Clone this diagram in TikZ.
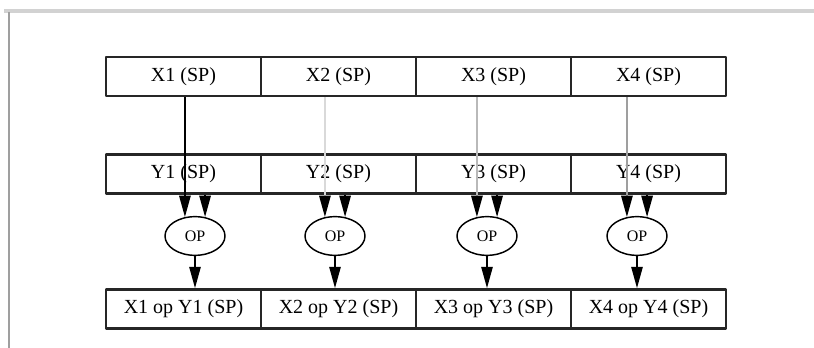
\documentclass[tikz,border=0pt]{standalone}
\usepackage{fontspec}
\setmainfont{Liberation Serif}
\usetikzlibrary{arrows.meta,shapes.geometric}
\begin{document}
\begin{tikzpicture}[x=0.75pt,y=-0.75pt, line join=round,
    cell/.style={draw=black!85, line width=2pt, minimum width=116.25pt, minimum height=29.25pt, inner sep=0pt, font=\fontsize{15}{17}\selectfont},
    opnode/.style={ellipse, draw, line width=1.1pt, minimum width=45pt, minimum height=29pt, inner sep=0pt, font=\fontsize{12}{14}\selectfont},
    feed/.style={line width=1.3pt, -{Triangle[length=16pt,width=8.5pt,color=black]}}]
  \useasboundingbox (0,0) rectangle (814,348);
  % frame
  \draw[gray!35, line width=3pt] (4,11) -- (814,11);
  \draw[gray!75, line width=1.8pt] (9,12) -- (9,348);
  % rows of cells
  \foreach \i in {1,...,4} {
    \node[cell] (x\i) at ({183.5+155*(\i-1)},76.5) {X\i{} (SP)};
    \node[cell] (y\i) at ({183.5+155*(\i-1)},174) {Y\i{} (SP)};
    \node[cell] (r\i) at ({183.5+155*(\i-1)},309) {X\i{} op Y\i{} (SP)};
  }
  % operators
  \foreach \i/\ox/\col in {1/195/black, 2/335/gray!30, 3/487/gray!55, 4/637/gray!75} {
    \node[opnode] (op\i) at (\ox,236) {OP};
    \draw[feed, \col] (x\i.south -| op\i.118) -- (op\i.118);
    \draw[feed] (y\i.south -| op\i.62) -- (op\i.62);
    \draw[feed] (op\i.south) -- (r\i.north -| op\i.south);
  }
\end{tikzpicture}
\end{document}
